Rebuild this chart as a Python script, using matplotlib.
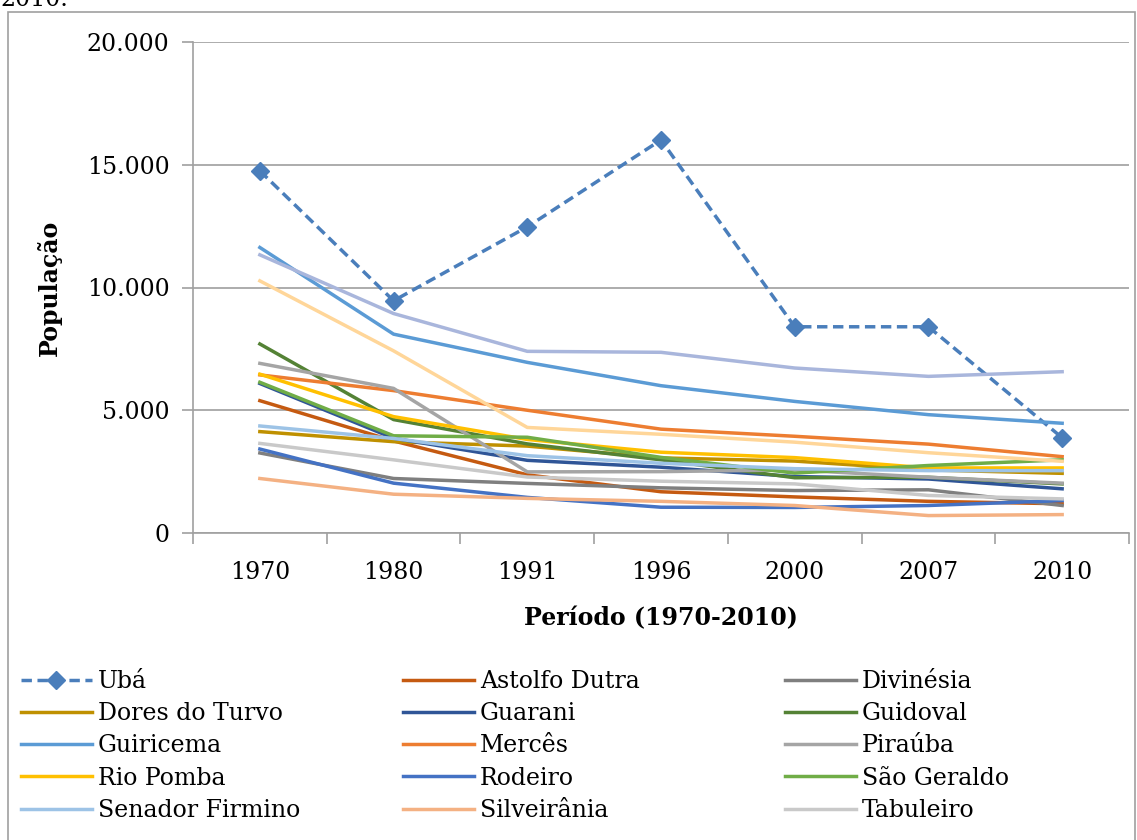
import matplotlib
matplotlib.use('Agg')
import matplotlib.pyplot as plt
from matplotlib.ticker import FuncFormatter, FixedLocator
from matplotlib.patches import Rectangle

plt.rcParams['font.family'] = ['DejaVu Serif']

periods = ['1970', '1980', '1991', '1996', '2000', '2007', '2010']

uba = [14750, 9460, 12470, 16010, 8400, 8400, 3880]
astolfo_dutra = [5390, 3750, 2370, 1680, 1470, 1290, 1190]
divinesia = [3260, 2220, 2020, 1840, 1730, 1760, 1120]
dores_do_turvo = [4130, 3720, 3540, 3060, 2930, 2570, 2430]
guarani = [6090, 3860, 2960, 2680, 2300, 2200, 1800]
guidoval = [7700, 4620, 3630, 2980, 2250, 2270, 2000]
guiricema = [11630, 8100, 6950, 6000, 5360, 4820, 4470]
merces = [6440, 5800, 5000, 4230, 3940, 3620, 3110]
pirauba = [6910, 5890, 2490, 2500, 2570, 2270, 2030]
rio_pomba = [6470, 4740, 3810, 3290, 3070, 2650, 2650]
rodeiro = [3420, 2030, 1450, 1050, 1040, 1120, 1320]
sao_geraldo = [6140, 3960, 3900, 3080, 2440, 2750, 2980]
senador_firmino = [4360, 3850, 3150, 2840, 2620, 2540, 2540]
silveirania = [2220, 1580, 1410, 1290, 1120, 710, 750]
tabuleiro = [3650, 2980, 2280, 2110, 2000, 1530, 1390]
# two more series whose legend entries fall below the cropped picture
tocantins = [10270, 7420, 4300, 4020, 3700, 3270, 2920]
visconde_rio_branco = [11330, 8940, 7400, 7360, 6720, 6380, 6570]

series = [
    ('Ubá', uba, '#4A7EBB'),
    ('Astolfo Dutra', astolfo_dutra, '#C55A11'),
    ('Divinésia', divinesia, '#7F7F7F'),
    ('Dores do Turvo', dores_do_turvo, '#BF9000'),
    ('Guarani', guarani, '#2F5597'),
    ('Guidoval', guidoval, '#548235'),
    ('Guiricema', guiricema, '#5B9BD5'),
    ('Mercês', merces, '#ED7D31'),
    ('Piraúba', pirauba, '#A5A5A5'),
    ('Rio Pomba', rio_pomba, '#FFC000'),
    ('Rodeiro', rodeiro, '#4472C4'),
    ('São Geraldo', sao_geraldo, '#70AD47'),
    ('Senador Firmino', senador_firmino, '#9DC3E6'),
    ('Silveirânia', silveirania, '#F4B183'),
    ('Tabuleiro', tabuleiro, '#C9C9C9'),
    ('Tocantins', tocantins, '#FFD699'),
    ('Visconde do Rio Branco', visconde_rio_branco, '#A9B6DC'),
]

fig = plt.figure(figsize=(11.37, 8.4), dpi=100)
ax = fig.add_axes([193 / 1137, 1 - 533 / 840, (1129 - 193) / 1137, (533 - 42) / 840])

x = list(range(len(periods)))
handles = {}
for name, vals, color in series:
    if name == 'Ubá':
        h, = ax.plot(x, vals, color=color, lw=2.5, ls=(0, (3, 1.6)),
                     marker='D', markersize=9, zorder=3)
    else:
        h, = ax.plot(x, vals, color=color, lw=2.5, zorder=3)
    handles[name] = h

ax.set_xlim(-0.5, len(periods) - 0.5)
ax.set_ylim(0, 20000)
ax.set_xticks(x)
ax.set_xticklabels(periods)
ax.xaxis.set_minor_locator(FixedLocator([i - 0.5 for i in range(len(periods) + 1)]))
ax.set_yticks([0, 5000, 10000, 15000, 20000])
ax.yaxis.set_major_formatter(FuncFormatter(lambda v, p: f'{v:,.0f}'.replace(',', '.')))

axis_gray = '#A0A0A0'
ax.tick_params(axis='x', which='major', length=0, pad=20, labelsize=17)
ax.tick_params(axis='x', which='minor', length=8, width=1.2, color=axis_gray)
ax.tick_params(axis='y', length=8, width=1.2, color=axis_gray, pad=9, labelsize=17)
ax.grid(axis='y', color='#A6A6A6', lw=1.3, zorder=0)
for side in ['top', 'right']:
    ax.spines[side].set_visible(False)
for side in ['left', 'bottom']:
    ax.spines[side].set_color(axis_gray)
    ax.spines[side].set_linewidth(1.2)

ax.set_xlabel('Período (1970-2010)', fontsize=17, fontweight='bold', labelpad=16)
ax.set_ylabel('População', fontsize=17, fontweight='bold', labelpad=18)

# legend, three columns laid out row by row
legend_names = [s[0] for s in series[:15]]
col_x = [21 / 1137, 403 / 1137, 785 / 1137]
for c in range(3):
    names = legend_names[c::3]
    fig.legend([handles[n] for n in names], names, loc='upper left',
               bbox_to_anchor=(col_x[c], 1 - 670 / 840), frameon=False,
               fontsize=17, handlelength=3.0, handletextpad=0.25,
               labelspacing=0.39, borderpad=0, borderaxespad=0)

# outer chart frame and clipped caption text above it
fig.patches.append(Rectangle((8 / 1137, -0.05), (1135 - 8) / 1137, 1.05 - 12 / 840,
                             transform=fig.transFigure, fill=False,
                             edgecolor='#A0A0A0', lw=1.2))
fig.text(0.0, 1 - 6 / 840, '2010.', fontsize=17, va='baseline', ha='left')

fig.savefig('out.png', dpi=100)
